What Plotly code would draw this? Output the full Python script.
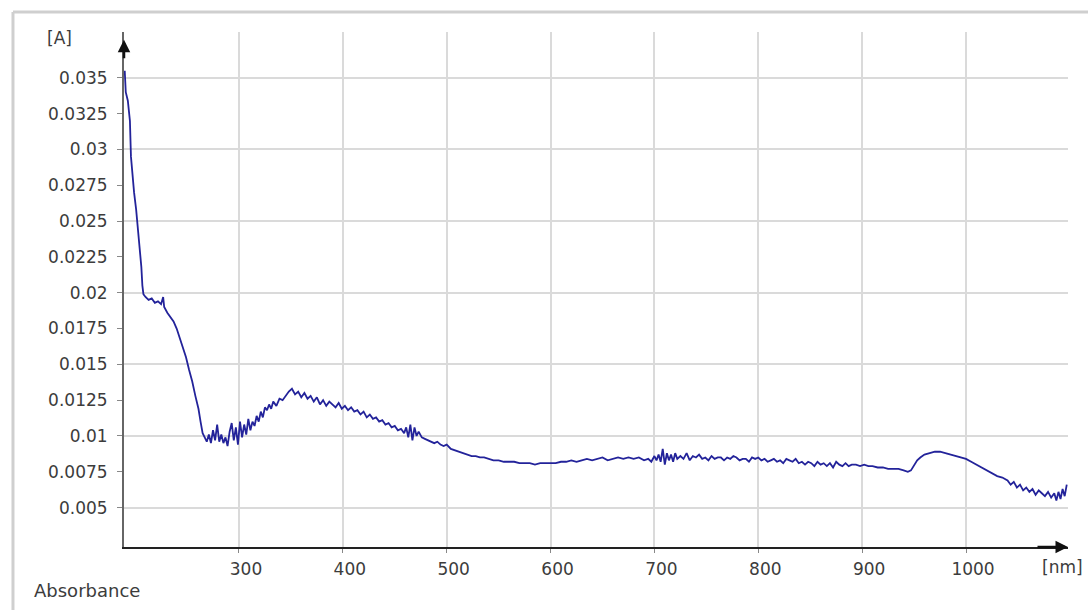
import plotly.graph_objects as go

# ---- data (wavelength in nm, absorbance in A) ----
wl_a = [190, 191, 193, 195, 196, 197, 199, 201, 203, 205, 206, 207, 208]
ab_a = [0.0355, 0.0340, 0.0334, 0.0320, 0.0295, 0.0285, 0.0270, 0.0258, 0.0243, 0.0230, 0.0218, 0.0205, 0.0199]

wl_b = [210, 213, 216, 219, 222, 225, 227, 228, 231, 234, 237, 240, 243, 246, 249, 252, 255, 258, 261, 263, 265]
ab_b = [0.0197, 0.0195, 0.0196, 0.0193, 0.0194, 0.0192, 0.0197, 0.0190, 0.0186, 0.0183, 0.0180, 0.0175, 0.0168,
        0.0162, 0.0155, 0.0146, 0.0138, 0.0128, 0.0119, 0.0110, 0.0102]

wl_c = [267, 269, 271, 273, 275, 277, 279, 281, 283, 285, 287, 289, 291, 293, 295, 297, 299, 301, 303, 305,
        307, 309, 311, 313, 315, 317, 319, 321, 323, 325, 327, 329, 331, 333]
ab_c = [0.0099, 0.0096, 0.0101, 0.0095, 0.0104, 0.0097, 0.0108, 0.0096, 0.0101, 0.0095, 0.0099, 0.0093, 0.0103,
        0.0109, 0.0097, 0.0106, 0.0094, 0.0110, 0.0099, 0.0108, 0.0101, 0.0112, 0.0104, 0.0110, 0.0107, 0.0114,
        0.0110, 0.0117, 0.0113, 0.0120, 0.0118, 0.0122, 0.0119, 0.0124]

wl_d = [336, 339, 342, 345, 348, 351, 354, 357, 360, 363, 366, 369, 372, 375, 378, 381, 384, 387, 390, 393,
        396, 399, 402, 405, 408, 411, 414, 417, 420, 423, 426, 429, 432, 435, 438, 441, 444, 447, 450, 453,
        456, 459]
ab_d = [0.0121, 0.0126, 0.0125, 0.0128, 0.0131, 0.0133, 0.0129, 0.0131, 0.0127, 0.0130, 0.0126, 0.0128, 0.0124,
        0.0127, 0.0122, 0.0125, 0.0121, 0.0124, 0.0122, 0.0120, 0.0123, 0.0119, 0.0121, 0.0118, 0.0120, 0.0117,
        0.0118, 0.0115, 0.0117, 0.0113, 0.0115, 0.0112, 0.0113, 0.0110, 0.0111, 0.0108, 0.0109, 0.0106, 0.0107,
        0.0104, 0.0105, 0.0102]

wl_e = [461, 463, 465, 467, 469, 471, 473, 476, 479, 482, 485, 488, 491, 494, 497, 500]
ab_e = [0.0106, 0.0099, 0.0108, 0.0097, 0.0106, 0.0100, 0.0103, 0.0099, 0.0098, 0.0097, 0.0096, 0.0095, 0.0096,
        0.0094, 0.0093, 0.0094]

wl_f = [504, 508, 512, 516, 520, 524, 528, 532, 536, 540, 545, 550, 555, 560, 565, 570, 575, 580, 585, 590,
        595, 600, 605, 610, 615, 620, 625, 630, 635, 640, 645, 650, 655, 660, 665, 670, 675, 680, 685, 690]
ab_f = [0.0091, 0.0090, 0.0089, 0.0088, 0.0087, 0.0086, 0.0086, 0.0085, 0.0085, 0.0084, 0.0083, 0.0083, 0.0082,
        0.0082, 0.0082, 0.0081, 0.0081, 0.0081, 0.0080, 0.0081, 0.0081, 0.0081, 0.0081, 0.0082, 0.0082, 0.0083,
        0.0082, 0.0083, 0.0084, 0.0083, 0.0084, 0.0085, 0.0083, 0.0084, 0.0085, 0.0084, 0.0085, 0.0084, 0.0085,
        0.0083]

wl_g = [694, 697, 700, 702, 704, 706, 708, 710, 712, 714, 716, 718, 720, 722]
ab_g = [0.0084, 0.0082, 0.0086, 0.0083, 0.0087, 0.0082, 0.0091, 0.0080, 0.0088, 0.0083, 0.0087, 0.0082, 0.0088,
        0.0084]

wl_h = [725, 728, 731, 734, 737, 740, 743, 746, 749, 752, 755, 758, 761, 764, 767, 770, 773, 776, 779, 782,
        785, 788, 791, 794, 797, 800, 803, 806, 809, 812, 815, 818, 821, 824, 827, 830, 833, 836, 839, 842,
        845, 848, 851, 854, 857, 860, 863, 866, 869, 872, 875, 878, 881, 884, 887, 890]
ab_h = [0.0086, 0.0084, 0.0088, 0.0083, 0.0086, 0.0085, 0.0087, 0.0084, 0.0085, 0.0083, 0.0086, 0.0084, 0.0085,
        0.0085, 0.0083, 0.0085, 0.0084, 0.0086, 0.0085, 0.0083, 0.0084, 0.0084, 0.0082, 0.0085, 0.0084, 0.0085,
        0.0083, 0.0084, 0.0082, 0.0083, 0.0084, 0.0082, 0.0083, 0.0081, 0.0084, 0.0083, 0.0082, 0.0084, 0.0081,
        0.0082, 0.0080, 0.0082, 0.0081, 0.0079, 0.0082, 0.0080, 0.0081, 0.0079, 0.0081, 0.0078, 0.0082, 0.0080,
        0.0079, 0.0081, 0.0079, 0.0080]

wl_i = [894, 898, 902, 906, 910, 915, 920, 925, 930, 935, 940, 944, 947, 950, 953, 956, 960, 965, 970, 975,
        980, 985, 990, 995, 1000, 1005, 1010, 1015, 1020, 1025, 1030, 1035, 1040]
ab_i = [0.0080, 0.0079, 0.0080, 0.0079, 0.0079, 0.0078, 0.0078, 0.0077, 0.0077, 0.0077, 0.0076, 0.0075, 0.0076,
        0.0080, 0.0083, 0.0085, 0.0087, 0.0088, 0.0089, 0.0089, 0.0088, 0.0087, 0.0086, 0.0085, 0.0084, 0.0082,
        0.0080, 0.0078, 0.0076, 0.0074, 0.0072, 0.0071, 0.0069]

wl_j = [1043, 1046, 1049, 1052, 1055, 1058, 1061, 1064, 1067, 1070, 1073, 1076, 1079, 1082, 1085, 1087, 1089,
        1091, 1093, 1095, 1097]
ab_j = [0.0066, 0.0068, 0.0064, 0.0066, 0.0062, 0.0064, 0.0061, 0.0063, 0.0059, 0.0062, 0.0060, 0.0058, 0.0061,
        0.0057, 0.0060, 0.0055, 0.0061, 0.0056, 0.0063, 0.0058, 0.0066]

wavelength = wl_a + wl_b + wl_c + wl_d + wl_e + wl_f + wl_g + wl_h + wl_i + wl_j
absorbance = ab_a + ab_b + ab_c + ab_d + ab_e + ab_f + ab_g + ab_h + ab_i + ab_j
assert len(wavelength) == len(absorbance)

x_tick_vals = [300, 400, 500, 600, 700, 800, 900, 1000]
x_tick_text = ["300", "400", "500", "600", "700", "800", "900", "1000"]
y_tick_vals = [0.005, 0.0075, 0.01, 0.0125, 0.015, 0.0175, 0.02, 0.0225, 0.025, 0.0275, 0.03, 0.0325, 0.035]
y_tick_text = ["0.005", "0.0075", "0.01", "0.0125", "0.015", "0.0175", "0.02", "0.0225", "0.025", "0.0275",
               "0.03", "0.0325", "0.035"]
y_grid_vals = [0.005, 0.01, 0.015, 0.02, 0.025, 0.03, 0.035]

X_RANGE = [189.3, 1098.2]
Y_RANGE = [0.00225, 0.0382]

FONT = "DejaVu Sans"
TXT = "#3c3c3c"
GRID = "#dadada"

fig = go.Figure()
fig.add_trace(go.Scatter(x=wavelength, y=absorbance, mode="lines",
                         line=dict(color="#23239a", width=1.8), showlegend=False, hoverinfo="skip"))
# invisible helper trace so the grid-only overlay axis is drawn
fig.add_trace(go.Scatter(x=[wavelength[0]], y=[absorbance[0]], yaxis="y2", mode="markers",
                         marker=dict(opacity=0), showlegend=False, hoverinfo="skip"))

fig.update_layout(
    width=1088, height=610,
    margin=dict(l=124, r=20, t=32, b=63),
    paper_bgcolor="white", plot_bgcolor="white",
    font=dict(family=FONT, size=17, color=TXT),
    xaxis=dict(range=X_RANGE, tickvals=x_tick_vals, ticktext=x_tick_text,
               showgrid=True, gridcolor=GRID, gridwidth=2, zeroline=False,
               showline=True, linecolor="#222", linewidth=2,
               ticks="outside", ticklen=4, tickcolor="#888", tickwidth=1,
               ticklabelshift=7, ticklabelstandoff=2,
               tickfont=dict(family=FONT, size=17, color=TXT)),
    yaxis=dict(range=Y_RANGE, tickvals=y_tick_vals, ticktext=y_tick_text,
               showgrid=False, zeroline=False,
               showline=True, linecolor="#666", linewidth=2,
               ticks="outside", ticklen=5, tickcolor="#888", tickwidth=1,
               ticklabelstandoff=6,
               tickfont=dict(family=FONT, size=17, color=TXT)),
    yaxis2=dict(range=Y_RANGE, overlaying="y", tickvals=y_grid_vals, showticklabels=False,
                showgrid=True, gridcolor=GRID, gridwidth=2, zeroline=False, showline=False, ticks=""),
)

# frame of the instrument window
fig.add_shape(type="line", xref="paper", yref="paper", x0=-0.1176, x1=1.03, y0=1.0388, y1=1.0388,
              line=dict(color="#cfcfcf", width=3))
fig.add_shape(type="line", xref="paper", yref="paper", x0=-0.1176, x1=-0.1176, y0=-0.13, y1=1.0388,
              line=dict(color="#cfcfcf", width=3))

# axis arrows
fig.add_annotation(xref="paper", yref="paper", x=0, y=0.985, ax=0, ay=20, showarrow=True,
                   arrowhead=2, arrowsize=1, arrowwidth=2.5, arrowcolor="#111", text="")
fig.add_annotation(xref="paper", yref="paper", x=1.0, y=0, ax=-32, ay=0, showarrow=True,
                   arrowhead=2, arrowsize=1, arrowwidth=2.5, arrowcolor="#111", text="")

# labels
fig.add_annotation(xref="paper", yref="paper", x=-0.0678, y=0.988, text="[A]", showarrow=False,
                   xanchor="center", yanchor="middle", font=dict(family=FONT, size=17, color=TXT))
fig.add_annotation(xref="paper", yref="paper", x=0.9947, y=-0.0388, text="[nm]", showarrow=False,
                   xanchor="center", yanchor="middle", font=dict(family=FONT, size=17, color=TXT))
fig.add_annotation(xref="paper", yref="paper", x=-0.0975, y=-0.0854, text="Absorbance", showarrow=False,
                   xanchor="left", yanchor="middle", font=dict(family=FONT, size=18, color=TXT))

fig.write_html("out.html")
